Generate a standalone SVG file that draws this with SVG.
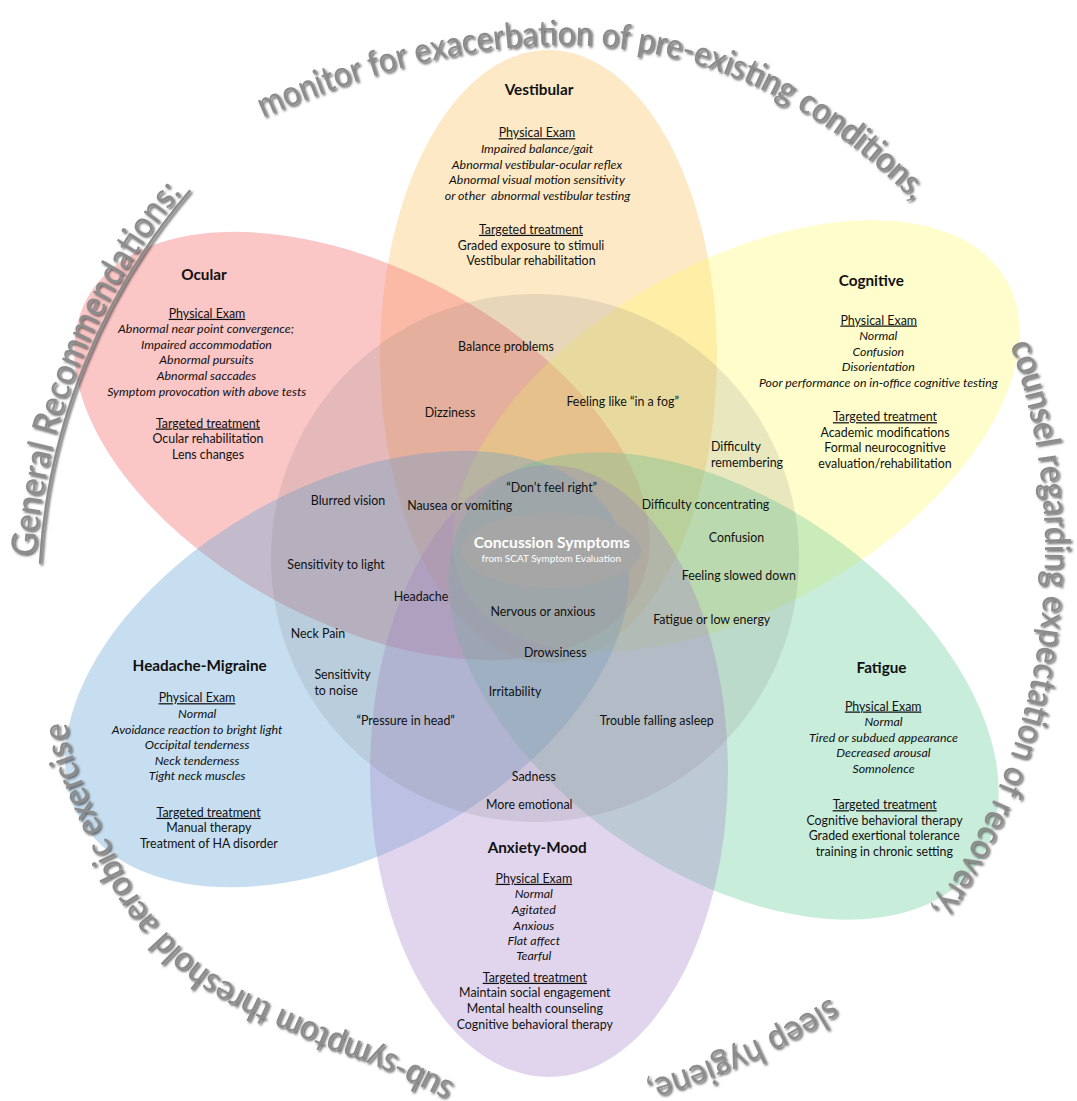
<svg xmlns="http://www.w3.org/2000/svg" width="1077" height="1101" viewBox="0 0 1077 1101">
<style>
.t{font-family:Lato,'Liberation Sans',sans-serif;font-size:12.4px;fill:#111;text-anchor:middle}
.i{font-style:italic}
.u{text-decoration:underline}
.h{font-weight:bold;font-size:15.3px}
.st{text-anchor:start}
.arc{font-family:Lato,'Liberation Sans',sans-serif;font-size:35px;fill:#8c8c8c;filter:url(#sh)}
.petal{stroke:none}
</style>
<defs>
<filter id="sh" x="-10%" y="-10%" width="120%" height="120%">
<feDropShadow dx="1.8" dy="1.8" stdDeviation="0.9" flood-color="#333" flood-opacity="0.75"/>
</filter>
<path id="pTop" d="M263 118 C582.7 -24.3 779 62.1 918 206"/>
<path id="pLeft" d="M35.5 556.7 A636 636 0 0 1 182.1 192.1"/>
<path id="pRight" d="M1009.9 344.4 A625 625 0 0 1 932 909.5"/>
<path id="pSleep" d="M830.6 997.9 A731 731 0 0 1 645.2 1081.6"/>
<path id="pSub" d="M454.6 1083.5 C443.7 1078.3 413.6 1062.8 389.4 1052.4 C365.2 1042 339.5 1034.5 309.6 1020.9 C279.7 1007.3 237.3 989.8 210 970.8 C182.7 951.8 163.5 929.8 146 906.8 C128.5 883.8 117.1 858.3 104.8 832.8 C92.5 807.3 78.5 772.5 72.4 754 C66.3 735.5 68.7 727.3 68 722"/>
</defs>
<rect width="1077" height="1101" fill="#fff"/>

<g id="vestibular">
<ellipse class="petal" cx="548.5" cy="356.5" rx="168.5" ry="306.5" fill="rgb(251,200,110)" fill-opacity="0.4"/>
<text class="t h" x="539" y="95">Vestibular</text>
<text class="t u" x="537" y="137.2">Physical Exam</text>
<text class="t i" x="537" y="152.8">Impaired balance/gait</text>
<text class="t i" x="537" y="168.5">Abnormal vestibular-ocular reflex</text>
<text class="t i" x="537" y="184.2">Abnormal visual motion sensitivity</text>
<text class="t i" x="537.5" y="199.5">or other&#160; abnormal vestibular testing</text>
<text class="t u" x="531" y="233.8">Targeted treatment</text>
<text class="t" x="531" y="249.5">Graded exposure to stimuli</text>
<text class="t" x="531" y="264.5">Vestibular rehabilitation</text>
</g>

<g id="ocular">
<ellipse class="petal" cx="362" cy="446" rx="312" ry="177" transform="rotate(28 362 446)" fill="rgb(245,125,125)" fill-opacity="0.44"/>
<text class="t h" x="204" y="279.5">Ocular</text>
<text class="t u" x="207" y="317.8">Physical Exam</text>
<text class="t i" x="206" y="333.2">Abnormal near point convergence;</text>
<text class="t i" x="206.5" y="348.5">Impaired accommodation</text>
<text class="t i" x="206.5" y="364.2">Abnormal pursuits</text>
<text class="t i" x="206.5" y="379.8">Abnormal saccades</text>
<text class="t i" x="206.7" y="395.5">Symptom provocation with above tests</text>
<text class="t u" x="208" y="427.5">Targeted treatment</text>
<text class="t" x="208" y="442.8">Ocular rehabilitation</text>
<text class="t" x="208" y="458.5">Lens changes</text>
</g>

<g id="cognitive">
<ellipse class="petal" cx="736" cy="436" rx="312" ry="172" transform="rotate(-30 736 436)" fill="rgb(255,250,110)" fill-opacity="0.35"/>
<text class="t h" x="871.3" y="286.2">Cognitive</text>
<text class="t u" x="878.7" y="324.5">Physical Exam</text>
<text class="t i" x="878.3" y="339.8">Normal</text>
<text class="t i" x="878.3" y="355.5">Confusion</text>
<text class="t i" x="878.3" y="371.2">Disorientation</text>
<text class="t i" x="878.3" y="386.8">Poor performance on in-office cognitive testing</text>
<text class="t u" x="885" y="421.2">Targeted treatment</text>
<text class="t" x="885" y="436.5">Academic modifications</text>
<text class="t" x="885" y="452.2">Formal neurocognitive</text>
<text class="t" x="885" y="467.8">evaluation/rehabilitation</text>
</g>

<g id="headache-migraine">
<ellipse class="petal" cx="347" cy="669" rx="306" ry="183" transform="rotate(-29 347 669)" fill="rgb(100,165,215)" fill-opacity="0.37"/>
<text class="t h" x="199.7" y="671.2">Headache-Migraine</text>
<text class="t u" x="197" y="702.2">Physical Exam</text>
<text class="t i" x="197.2" y="717.8">Normal</text>
<text class="t i" x="197.1" y="733.5">Avoidance reaction to bright light</text>
<text class="t i" x="197.1" y="748.8">Occipital tenderness</text>
<text class="t i" x="197.1" y="764.5">Neck tenderness</text>
<text class="t i" x="197.1" y="780.2">Tight neck muscles</text>
<text class="t u" x="208.6" y="816.8">Targeted treatment</text>
<text class="t" x="208.8" y="832.2">Manual therapy</text>
<text class="t" x="208.8" y="847.8">Treatment of HA disorder</text>
</g>

<g id="fatigue">
<ellipse class="petal" cx="723.5" cy="686" rx="310" ry="185" transform="rotate(35 723.5 686)" fill="rgb(105,205,155)" fill-opacity="0.36"/>
<text class="t h" x="881.5" y="673">Fatigue</text>
<text class="t u" x="883.2" y="710.5">Physical Exam</text>
<text class="t i" x="883.5" y="726.2">Normal</text>
<text class="t i" x="883.5" y="741.5">Tired or subdued appearance</text>
<text class="t i" x="883.5" y="757.2">Decreased arousal</text>
<text class="t i" x="883.5" y="772.8">Somnolence</text>
<text class="t u" x="884.7" y="809.2">Targeted treatment</text>
<text class="t" x="884.5" y="824.8">Cognitive behavioral therapy</text>
<text class="t" x="884.2" y="840.2">Graded exertional tolerance</text>
<text class="t" x="884.3" y="855.8">training in chronic setting</text>
</g>

<g id="anxiety-mood">
<ellipse class="petal" cx="549" cy="771" rx="179" ry="306" fill="rgb(170,140,205)" fill-opacity="0.37"/>
<text class="t h" x="537.2" y="852.8">Anxiety-Mood</text>
<text class="t u" x="533.8" y="882.8">Physical Exam</text>
<text class="t i" x="533.8" y="898.2">Normal</text>
<text class="t i" x="533.8" y="913.8">Agitated</text>
<text class="t i" x="533.8" y="929.5">Anxious</text>
<text class="t i" x="533.8" y="944.8">Flat affect</text>
<text class="t i" x="533.8" y="960.2">Tearful</text>
<text class="t u" x="534.8" y="981.8">Targeted treatment</text>
<text class="t" x="534.8" y="997.2">Maintain social engagement</text>
<text class="t" x="534.8" y="1012.8">Mental health counseling</text>
<text class="t" x="534.8" y="1028.5">Cognitive behavioral therapy</text>
</g>

<g id="symptom-circle">
<circle cx="535" cy="558" r="264" fill="rgb(120,120,120)" fill-opacity="0.16"/>
</g>

<g id="concussion-symptoms">
<ellipse cx="551" cy="550.5" rx="90" ry="37.5" fill="#a6a6a6"/>
<text class="t h" x="551.8" y="548" style="fill:#fff;font-size:15.6px">Concussion Symptoms</text>
<text class="t" x="551.3" y="561.8" style="fill:#fff;font-size:10px">from SCAT Symptom Evaluation</text>
</g>

<g id="symptoms">
<text class="t" x="506" y="351.2">Balance problems</text>
<text class="t" x="450" y="416.8">Dizziness</text>
<text class="t" x="622.7" y="405.5">Feeling like “in a fog”</text>
<text class="t st" x="711" y="451.2">Difficulty</text>
<text class="t st" x="711" y="466.8">remembering</text>
<text class="t" x="348" y="505.2">Blurred vision</text>
<text class="t" x="459.7" y="509.5">Nausea or vomiting</text>
<text class="t" x="551.7" y="492.2">“Don’t feel right”</text>
<text class="t" x="705.5" y="508.5">Difficulty concentrating</text>
<text class="t" x="736.5" y="541.8">Confusion</text>
<text class="t" x="336" y="568.5">Sensitivity to light</text>
<text class="t" x="738.8" y="579.5">Feeling slowed down</text>
<text class="t" x="421" y="600.5">Headache</text>
<text class="t" x="543" y="615.5">Nervous or anxious</text>
<text class="t" x="711.7" y="624">Fatigue or low energy</text>
<text class="t" x="318" y="638">Neck Pain</text>
<text class="t" x="555.3" y="657.2">Drowsiness</text>
<text class="t st" x="314.4" y="679.2">Sensitivity</text>
<text class="t st" x="314.4" y="694.8">to noise</text>
<text class="t" x="515" y="695.5">Irritability</text>
<text class="t" x="405.7" y="725.2">“Pressure in head”</text>
<text class="t" x="656.8" y="724.5">Trouble falling asleep</text>
<text class="t" x="533.8" y="781.2">Sadness</text>
<text class="t" x="529.2" y="808.5">More emotional</text>
</g>

<g id="connectors"></g>

<g id="general-recommendations">
<path d="M40 563.7 A631 631 0 0 1 190.2 190.2" fill="none" stroke="#8c8c8c" stroke-width="2.5" filter="url(#sh)"/>
<text class="arc"><textPath href="#pLeft" textLength="399" lengthAdjust="spacingAndGlyphs">General Recommendations:</textPath></text>
<text class="arc"><textPath href="#pTop" textLength="705" lengthAdjust="spacingAndGlyphs">monitor for exacerbation of pre-existing conditions,</textPath></text>
<text class="arc"><textPath href="#pRight" textLength="592" lengthAdjust="spacingAndGlyphs">counsel regarding expectation of recovery,</textPath></text>
<text class="arc"><textPath href="#pSleep" textLength="204" lengthAdjust="spacingAndGlyphs">sleep hygiene,</textPath></text>
<text class="arc"><textPath href="#pSub" textLength="562" lengthAdjust="spacingAndGlyphs">sub-symptom threshold aerobic exercise</textPath></text>
</g>
</svg>
